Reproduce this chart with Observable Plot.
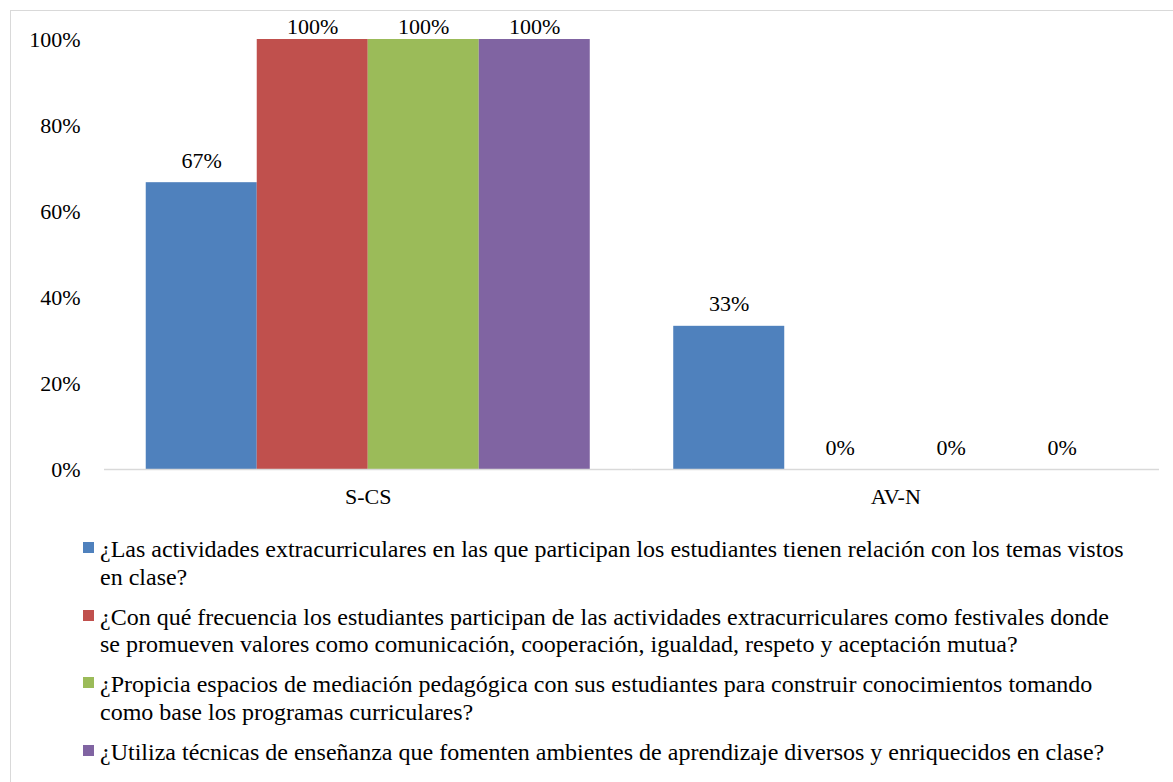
<!DOCTYPE html>
<html>
<head>
<meta charset="utf-8">
<script src="https://cdn.jsdelivr.net/npm/d3@7"></script>
<script src="https://cdn.jsdelivr.net/npm/@observablehq/plot@0.6"></script>
<style>
  html, body { margin: 0; padding: 0; background: #fff; overflow: hidden; }
  body { width: 1173px; height: 782px; position: relative; font-family: "Liberation Serif", "Times New Roman", Times, Tinos, "Noto Serif", "DejaVu Serif", FreeSerif, serif; }
  #frame { position: absolute; left: 10px; top: 10px; width: 1200px; height: 800px; border: 1.5px solid #d9d9d9; box-sizing: border-box; }
  #chart { position: absolute; left: 0; top: 0; }
  #chart svg, #chart text { font-family: "Liberation Serif", "Times New Roman", Times, Tinos, "Noto Serif", "DejaVu Serif", FreeSerif, serif; }
  #legend { position: absolute; left: 83px; top: 536px; width: 1050px; font-size: 24px; line-height: 27.5px; color: #000; }
  .item { display: flex; align-items: flex-start; margin-bottom: 12.5px; }
  .sw { width: 11px; height: 11px; flex: none; margin-top: 6px; margin-right: 6px; }
  .lbl { flex: 1; }
</style>
</head>
<body>
<div id="frame"></div>
<div id="chart"></div>
<div id="legend"></div>
<script>
const groups = ["S-CS", "AV-N"];
const series = [
  "¿Las actividades extracurriculares en las que participan los estudiantes tienen relación con los temas vistos en clase?",
  "¿Con qué frecuencia los estudiantes participan de las actividades extracurriculares como festivales donde se promueven valores como comunicación, cooperación, igualdad, respeto y aceptación mutua?",
  "¿Propicia espacios de mediación pedagógica con sus estudiantes para construir conocimientos tomando como base los programas curriculares?",
  "¿Utiliza técnicas de enseñanza que fomenten ambientes de aprendizaje diversos y enriquecidos en clase?"
];
const colors = ["#4F81BD", "#C0504D", "#9BBB59", "#8064A2"];
const valuesSCS = [66.7, 100, 100, 100];
const valuesAVN = [33.3, 0, 0, 0];
const yTicks = [0, 20, 40, 60, 80, 100];

const data = [];
series.forEach((s, i) => {
  data.push({group: groups[0], series: s, value: valuesSCS[i]});
  data.push({group: groups[1], series: s, value: valuesAVN[i]});
});

const chart = Plot.plot({
  width: 1173,
  height: 530,
  marginLeft: 104,
  marginRight: 14,
  marginTop: 39,
  marginBottom: 61,
  style: {fontSize: "22px", color: "#000", background: "transparent"},
  fx: {domain: groups, padding: 0, label: null, round: false},
  x: {domain: series, paddingInner: 0, paddingOuter: 0.376, axis: null, round: false},
  y: {domain: [0, 100], label: null, axis: null},
  color: {domain: series, range: colors},
  marks: [
    Plot.barY(data, {fx: "group", x: "series", y: "value", fill: "series"}),
    Plot.ruleY([0], {stroke: "#d9d9d9", strokeWidth: 1.5}),
    Plot.text(data, {
      fx: "group", x: "series",
      y: d => Math.min(d.value, 97.9),
      text: d => Math.round(d.value) + "%",
      dy: -22, fontSize: 22, fill: "#000"
    }),
    Plot.axisY({ticks: yTicks, tickFormat: d => d + "%", tickSize: 0, tickPadding: 24, fontSize: 22, label: null, fill: "#000"}),
    Plot.axisFx({anchor: "bottom", tickSize: 0, tickPadding: 19, fontSize: 22, label: null, fill: "#000"})
  ]
});
document.getElementById("chart").appendChild(chart);

const legend = document.getElementById("legend");
series.forEach((s, i) => {
  const item = document.createElement("div");
  item.className = "item";
  const sw = document.createElement("div");
  sw.className = "sw";
  sw.style.background = colors[i];
  const lbl = document.createElement("div");
  lbl.className = "lbl";
  lbl.textContent = s;
  item.appendChild(sw);
  item.appendChild(lbl);
  legend.appendChild(item);
});
</script>
</body>
</html>
